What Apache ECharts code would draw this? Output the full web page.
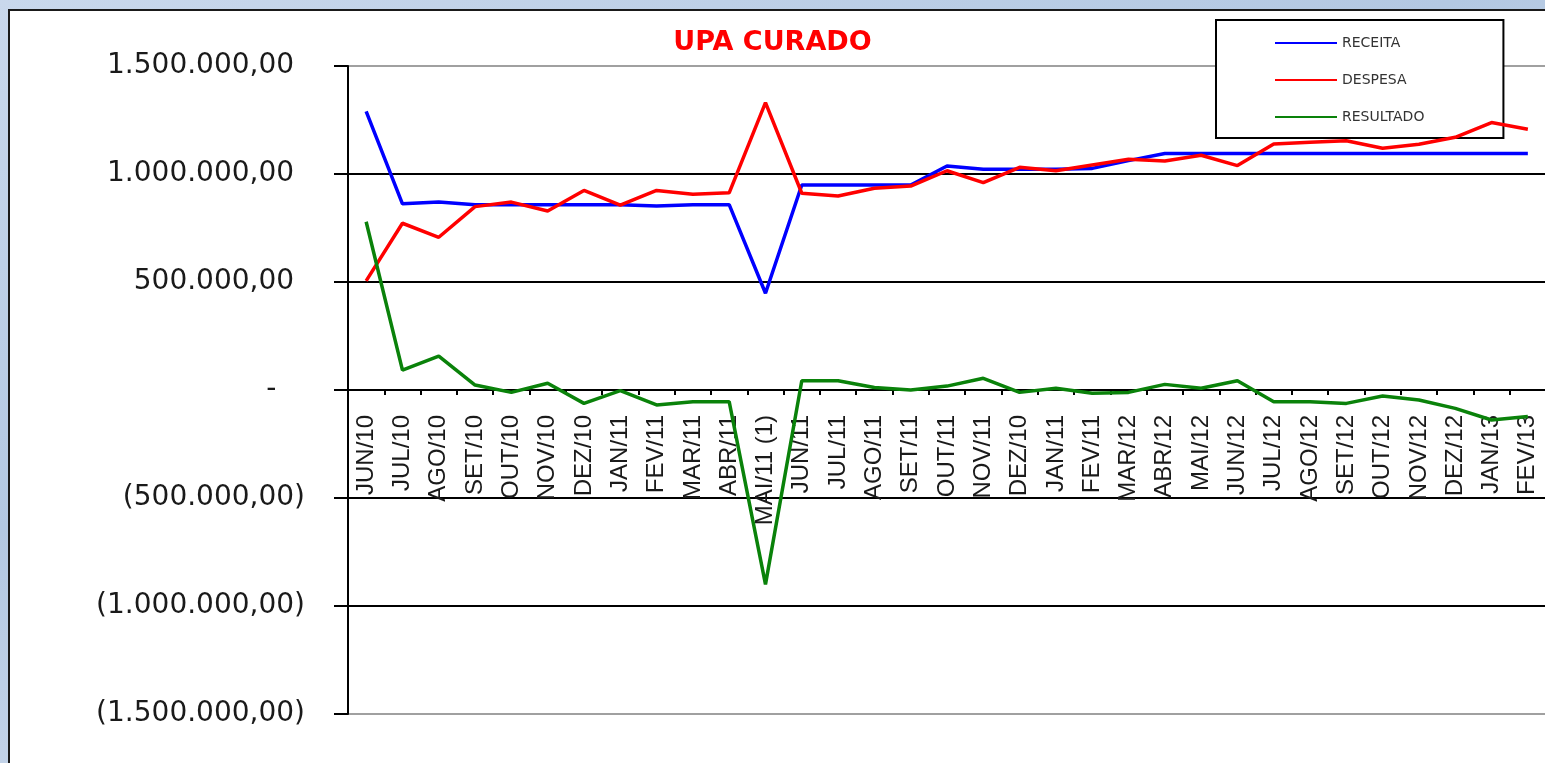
<!DOCTYPE html>
<html>
<head>
<meta charset="utf-8">
<title>UPA CURADO</title>
<script src="https://cdn.jsdelivr.net/npm/echarts@6/dist/echarts.min.js"></script>
<style>
  html, body {
    margin: 0;
    padding: 0;
    width: 1545px;
    height: 763px;
    overflow: hidden;
    background: linear-gradient(160deg, #c9d8ec 0%, #b3c8e2 40%, #c4d4e9 60%, #a9c0de 100%);
  }
  #frame {
    position: absolute;
    left: 8px;
    top: 9px;
    width: 1600px;
    height: 800px;
    background: #fff;
    border: 2px solid #1a1a1a;
  }
  #chart {
    position: absolute;
    left: 0;
    top: 0;
    width: 1545px;
    height: 763px;
  }
</style>
</head>
<body>
<div id="frame"></div>
<div id="chart"></div>
<script>
// meses (eixo x)
const categories = ['JUN/10', 'JUL/10', 'AGO/10', 'SET/10', 'OUT/10', 'NOV/10', 'DEZ/10', 'JAN/11', 'FEV/11',
  'MAR/11', 'ABR/11', 'MAI/11 (1)', 'JUN/11', 'JUL/11', 'AGO/11', 'SET/11', 'OUT/11', 'NOV/11', 'DEZ/10',
  'JAN/11', 'FEV/11', 'MAR/12', 'ABR/12', 'MAI/12', 'JUN/12', 'JUL/12', 'AGO/12', 'SET/12', 'OUT/12',
  'NOV/12', 'DEZ/12', 'JAN/13', 'FEV/13'];

const receita = [1290000, 862000, 870000, 858000, 858000, 858000, 858000, 858000, 852000, 858000, 858000,
  448000, 949000, 949000, 949000, 949000, 1037000, 1022000, 1022000, 1022000, 1026000, 1062000, 1095000,
  1095000, 1095000, 1095000, 1095000, 1095000, 1095000, 1095000, 1095000, 1095000, 1095000];

const despesa = [505000, 772000, 707000, 849000, 870000, 829000, 924000, 856000, 924000, 906000, 913000,
  1330000, 911000, 898000, 934000, 944000, 1015000, 960000, 1031000, 1015000, 1042000, 1068000, 1060000,
  1087000, 1039000, 1139000, 1147000, 1154000, 1119000, 1138000, 1170000, 1238000, 1207000];

const resultado = [779000, 92000, 157000, 23000, -11000, 31000, -62000, -3000, -69000, -54000, -54000,
  -900000, 43000, 43000, 12000, 0, 18000, 54000, -11000, 8000, -15000, -11000, 26000, 8000, 43000,
  -54000, -54000, -62000, -28000, -46000, -85000, -139000, -123000];

const yMin = -1500000, yMax = 1500000, yStep = 500000;

// formato contabil: 1.500.000,00 / (500.000,00) / -
function fmtNum(v) {
  let s = Math.abs(v).toFixed(2).split('.');
  let int = s[0].replace(/\B(?=(\d{3})+(?!\d))/g, '.');
  return int + ',' + s[1];
}

let chart = echarts.init(document.getElementById('chart'), null, {
  renderer: 'canvas'
});

const gridTop = 66, gridHeight = 648;
// eixo x desenhado na linha do zero (meio do grid, pois min = -max)
const xOffset = -gridHeight / 2;

let option = {
  backgroundColor: 'transparent',
  animation: false,
  title: {
    text: 'UPA CURADO',
    left: 'center',
    top: 24,
    textStyle: {
      color: '#ff0000',
      fontFamily: 'DejaVu Sans',
      fontWeight: 'bold',
      fontSize: 27
    }
  },
  legend: {
    left: 1216,
    top: 20,
    orient: 'vertical',
    padding: [16, 79, 14, 59],
    icon: 'rect',
    itemWidth: 62,
    itemHeight: 2,
    itemGap: 23,
    borderColor: '#000',
    borderWidth: 2,
    backgroundColor: '#fff',
    textStyle: {
      fontFamily: 'DejaVu Sans',
      fontSize: 14,
      color: '#333'
    },
    data: ['RECEITA', 'DESPESA', 'RESULTADO']
  },
  grid: {
    left: 348,
    top: gridTop,
    width: 1198,
    height: gridHeight,
    outerBoundsMode: 'none',
    containLabel: false
  },
  xAxis: {
    type: 'category',
    data: categories,
    boundaryGap: true,
    position: 'bottom',
    offset: xOffset,
    axisLine: {
      onZero: false,
      lineStyle: {
        color: '#000',
        width: 2
      }
    },
    axisTick: {
      show: true,
      length: 5,
      lineStyle: {
        color: '#000',
        width: 2
      }
    },
    axisLabel: {
      interval: 0,
      rotate: 90,
      margin: 25,
      color: '#1a1a1a',
      fontFamily: 'Liberation Sans',
      fontSize: 24
    },
    splitLine: {
      show: false
    }
  },
  yAxis: {
    type: 'value',
    min: yMin,
    max: yMax,
    interval: yStep,
    axisLine: {
      show: true,
      lineStyle: {
        color: '#000',
        width: 2
      }
    },
    axisTick: {
      show: true,
      length: 14,
      lineStyle: {
        color: '#000',
        width: 2
      }
    },
    axisLabel: {
      margin: 43,
      formatter(value) {
        if (value === 0) return '-{p|0)}';
        if (value < 0) return '(' + fmtNum(value) + ')';
        return fmtNum(value) + '{p|)}';
      },
      color: '#1a1a1a',
      fontFamily: 'DejaVu Sans',
      fontSize: 28,
      rich: {
        p: {
          color: 'rgba(0,0,0,0)',
          fontFamily: 'DejaVu Sans',
          fontSize: 28
        }
      }
    },
    splitLine: {
      show: true,
      lineStyle: {
        color: ['#a0a0a0', '#000', '#000', '#000', '#000', '#000', '#a0a0a0'],
        width: 2
      }
    }
  },
  // linhas em camada propria, por cima dos rotulos e da legenda
  series: [{
      name: 'RECEITA',
      type: 'line',
      zlevel: 1,
      symbol: 'none',
      color: '#0000ff',
      lineStyle: {
        width: 3.5
      },
      data: receita
    },
    {
      name: 'DESPESA',
      type: 'line',
      zlevel: 1,
      symbol: 'none',
      color: '#ff0000',
      lineStyle: {
        width: 3.5
      },
      data: despesa
    },
    {
      name: 'RESULTADO',
      type: 'line',
      zlevel: 1,
      symbol: 'none',
      color: '#0a820a',
      lineStyle: {
        width: 3.5
      },
      data: resultado
    }
  ]
};

chart.setOption(option);
</script>
</body>
</html>
